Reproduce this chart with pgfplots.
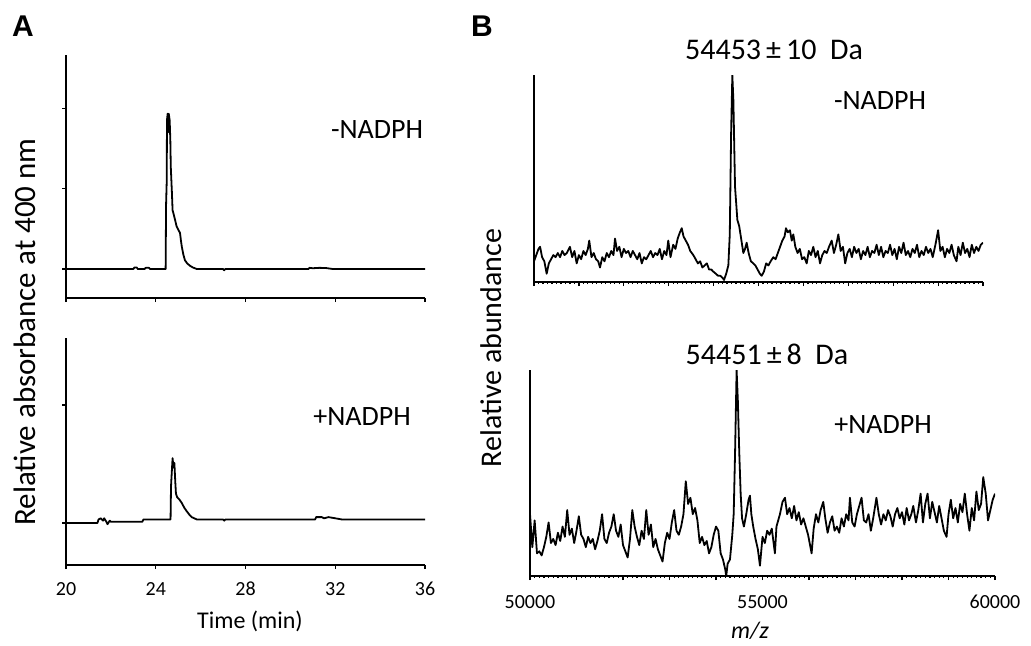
\documentclass[border=0pt]{standalone}
\usepackage{fontspec}
\setmainfont{Carlito}
\newfontfamily\panelfont{Liberation Sans}
\usepackage{pgfplots}
\pgfplotsset{compat=1.18}

\pgfplotsset{
  chrom/.style={
    scale only axis, anchor=south west,
    axis x line=bottom, axis y line=left,
    axis line style={-, line width=0.7pt},
    tick align=outside, major tick length=2pt,
    tick style={line width=0.6pt, black},
    every tick label/.append style={font=\fontsize{10}{12}\selectfont},
    /pgf/number format/assume math mode=true,
    scaled x ticks=false,
  },
  trace/.style={black, line width=0.9pt, line join=round},
}

\begin{document}
\begin{tikzpicture}
\useasboundingbox (0,0) rectangle (515.5pt,322.5pt);

% ---- A, -NADPH
\begin{axis}[chrom, at={(33pt,173.5pt)}, width=179.5pt, height=121.5pt,
  xmin=20, xmax=36, ymin=-0.36, ymax=2.66,
  xtick={20,24,...,36}, xticklabels={}, ytick={0,1,2}, yticklabels={}]
\addplot[trace] coordinates {
(20,0) (23.0,0) (23.05,0.02) (23.15,0.02) (23.2,0) (23.5,0) (23.55,0.015) (23.7,0.015) (23.75,0) (24.4,0)
(24.44,0) (24.46,0.8) (24.49,1.1) (24.5,1.85) (24.53,1.93) (24.56,1.7) (24.58,1.93) (24.62,1.85) (24.65,1.6)
(24.67,1.27) (24.72,0.95) (24.75,0.73) (24.8,0.68) (24.87,0.6) (24.93,0.53) (25.0,0.49) (25.08,0.45)
(25.12,0.36) (25.16,0.28) (25.23,0.18) (25.3,0.11) (25.4,0.07) (25.53,0.04) (25.65,0.02) (25.83,0)
(27.0,0) (27.05,-0.015) (27.1,0) (30.8,0) (30.85,0.015) (31.0,0.01) (31.3,0.015) (31.6,0.012) (31.9,0) (36,0)
};
\end{axis}

% ---- A, +NADPH
\begin{axis}[chrom, at={(33pt,40pt)}, width=179.5pt, height=113.5pt,
  xmin=20, xmax=36, ymin=-0.356, ymax=1.568,
  xtick={20,24,...,36}, ytick={0,1}, yticklabels={},
  xticklabel style={yshift=-3pt}]
\addplot[trace] coordinates {
(20,0) (21.4,0) (21.45,0.03) (21.55,0.04) (21.65,0.02) (21.7,0.04) (21.8,0.01) (21.85,-0.01) (21.95,0.02) (22.0,0.01)
(23.4,0.01) (23.45,0.03) (24.66,0.03) (24.68,0.31) (24.72,0.45) (24.75,0.55) (24.79,0.47) (24.83,0.51)
(24.87,0.35) (24.9,0.25) (24.95,0.22) (25.05,0.2) (25.16,0.17) (25.27,0.13) (25.38,0.1) (25.5,0.07)
(25.6,0.05) (25.83,0.03) (27.0,0.03) (27.05,0.02) (27.1,0.03) (31.1,0.03) (31.15,0.05) (31.4,0.05)
(31.5,0.04) (31.7,0.05) (32.0,0.04) (32.3,0.03) (36,0.03)
};
\end{axis}

% ---- B, -NADPH
\begin{axis}[chrom, at={(267pt,181.5pt)}, width=224.5pt, height=103.5pt,
  xmin=50000, xmax=60000, ymin=0, ymax=100,
  xtick={50000,51000,...,60000}, xticklabels={}, minor x tick num=9,
  minor tick length=1pt, ytick=\empty]
\addplot[trace] coordinates {
(50000,10) (50050,13) (50100,16) (50135,17) (50180,12) (50230,10) (50282,4) (50330,9) (50380,11) (50430,13)
(50480,12) (50530,14) (50580,12) (50630,15) (50680,13) (50730,14) (50800,17) (50850,12) (50900,15) (50950,9)
(51000,13) (51050,11) (51100,15) (51150,13) (51200,16) (51230,20) (51280,12) (51330,14) (51380,11) (51430,10)
(51470,7) (51520,12) (51570,10) (51620,14) (51670,12) (51720,15) (51770,13) (51804,21) (51850,15) (51900,17)
(51950,12) (52000,16) (52050,14) (52100,15) (52150,12) (52200,15) (52250,13) (52300,11) (52350,14) (52400,9)
(52450,12) (52500,11) (52550,13) (52600,15) (52650,12) (52700,14) (52750,13) (52800,16) (52850,11) (52900,15)
(52950,13) (52990,20) (53040,12) (53100,18) (53150,16) (53200,21) (53250,24) (53290,26) (53330,22) (53380,20)
(53430,18) (53480,15) (53548,13) (53600,11) (53650,9) (53700,10) (53750,7) (53800,8) (53850,9) (53900,6)
(53950,6) (53994,5) (54050,4) (54100,3) (54150,3) (54200,2) (54232,1) (54280,4) (54328,8) (54360,23)
(54390,72) (54417,100) (54440,88) (54477,46) (54529,30) (54570,27) (54620,20) (54662,14) (54700,16) (54736,19)
(54780,14) (54830,10) (54885,9) (54930,8) (54980,6) (55030,4) (55070,3) (55120,5) (55170,9) (55220,8)
(55270,10) (55330,12) (55380,11) (55430,14) (55480,17) (55530,20) (55580,22) (55612,26) (55650,24) (55700,25)
(55740,20) (55775,23) (55820,17) (55870,14) (55920,16) (55970,11) (56020,12) (56073,9) (56120,15) (56170,13)
(56220,17) (56270,12) (56320,15) (56370,9) (56420,13) (56470,15) (56520,14) (56570,17) (56630,20) (56680,14)
(56730,18) (56778,23) (56830,15) (56880,17) (56930,9) (56980,14) (57030,16) (57080,12) (57130,17) (57180,14)
(57230,16) (57280,11) (57330,15) (57380,13) (57430,17) (57480,12) (57530,15) (57580,14) (57630,18) (57680,13)
(57730,17) (57780,12) (57830,15) (57880,14) (57930,18) (57980,13) (58030,16) (58080,11) (58130,17) (58180,14)
(58230,19) (58280,13) (58330,15) (58380,12) (58430,16) (58480,14) (58530,18) (58580,12) (58630,15) (58680,13)
(58730,17) (58780,14) (58830,16) (58880,12) (58940,18) (59000,25) (59050,15) (59100,17) (59150,12) (59200,16)
(59250,14) (59300,18) (59350,13) (59410,10) (59450,17) (59500,13) (59550,19) (59600,14) (59650,16) (59700,12)
(59750,18) (59800,14) (59850,17) (59900,15) (59950,18) (60000,19)
};
\end{axis}

% ---- B, +NADPH
\begin{axis}[chrom, at={(265pt,34.5pt)}, width=232.5pt, height=103pt,
  xmin=50000, xmax=60000, ymin=0, ymax=100,
  xtick={50000,51000,...,60000},
  xticklabels={50000,,,,,55000,,,,,60000}, minor x tick num=9,
  minor tick length=1pt, ytick=\empty,
  xticklabel style={yshift=-4pt}]
\addplot[trace] coordinates {
(50000,30) (50050,14) (50100,27) (50150,11) (50200,12) (50250,10) (50300,14) (50350,19) (50400,26) (50450,16)
(50500,18) (50550,15) (50600,21) (50650,17) (50700,24) (50750,19) (50800,32) (50850,20) (50900,23) (50950,16)
(51000,22) (51050,29) (51100,20) (51150,18) (51200,14) (51250,19) (51300,16) (51350,18) (51400,13) (51450,17)
(51500,22) (51550,30) (51600,18) (51650,16) (51700,21) (51750,24) (51800,30) (51850,22) (51900,19) (51950,25)
(52000,15) (52050,12) (52100,9) (52150,18) (52200,32) (52250,24) (52300,19) (52350,15) (52400,22) (52450,18)
(52500,32) (52550,20) (52600,25) (52650,14) (52700,18) (52750,13) (52800,10) (52850,7) (52900,16) (52950,21)
(53000,18) (53050,26) (53100,32) (53150,22) (53200,20) (53250,24) (53300,30) (53350,46) (53400,35) (53450,38)
(53500,30) (53550,33) (53600,27) (53650,16) (53700,19) (53750,15) (53800,17) (53850,11) (53900,14) (53950,20)
(54000,24) (54050,22) (54100,11) (54150,8) (54200,3) (54220,0) (54250,6) (54300,8) (54350,20) (54380,30)
(54410,60) (54443,100) (54470,85) (54500,60) (54530,40) (54560,28) (54600,24) (54650,30) (54700,37) (54730,39)
(54760,30) (54800,24) (54850,18) (54900,13) (54945,5) (55000,19) (55050,16) (55100,22) (55150,20) (55200,23)
(55250,14) (55267,11) (55300,24) (55350,28) (55375,30) (55430,36) (55483,38) (55530,30) (55580,33) (55630,28)
(55680,34) (55730,27) (55780,31) (55830,25) (55880,28) (55930,24) (55980,20) (56056,11) (56100,23) (56150,30)
(56200,26) (56250,32) (56307,36) (56350,28) (56400,21) (56450,26) (56500,29) (56550,22) (56600,24) (56650,21)
(56700,28) (56750,24) (56800,30) (56850,27) (56880,38) (56930,26) (56980,24) (57030,30) (57080,34) (57130,38)
(57180,27) (57230,26) (57280,30) (57330,22) (57380,28) (57450,38) (57500,30) (57550,25) (57600,30) (57650,27)
(57700,32) (57750,29) (57800,24) (57850,30) (57900,33) (57950,28) (58000,31) (58050,25) (58100,33) (58150,27)
(58200,30) (58242,34) (58300,26) (58350,32) (58400,40) (58450,26) (58500,35) (58550,40) (58600,28) (58650,36)
(58700,31) (58750,26) (58800,34) (58850,28) (58900,22) (58958,19) (59000,30) (59050,37) (59100,28) (59150,33)
(59200,26) (59250,35) (59300,31) (59350,40) (59400,30) (59450,22) (59500,33) (59550,27) (59600,41) (59650,32)
(59700,35) (59747,48) (59800,40) (59850,27) (59900,32) (59950,37) (60000,40)
};
\end{axis}

% ---- text
\node[font=\panelfont\bfseries\fontsize{15}{17}\selectfont] at (11.5pt,309.5pt) {A};
\node[font=\panelfont\bfseries\fontsize{15}{17}\selectfont] at (241pt,309.5pt) {B};
\node[rotate=90, font=\fontsize{15.5}{17}\selectfont] at (12.5pt,156.5pt) {Relative absorbance at 400 nm};
\node[rotate=90, font=\fontsize{15}{17}\selectfont] at (245.5pt,148.5pt) {Relative abundance};
\node[font=\fontsize{12}{14}\selectfont] at (125pt,12pt) {Time (min)};
\node[font=\itshape\fontsize{12}{14}\selectfont] at (375pt,7pt) {m/z};
\node[font=\fontsize{14}{16}\selectfont] at (188.5pt,257.5pt) {-NADPH};
\node[font=\fontsize{14}{16}\selectfont] at (181pt,114pt) {+NADPH};
\node[font=\fontsize{15}{17}\selectfont] at (387pt,297.5pt) {54453\,±\,10~~Da};
\node[font=\fontsize{14}{16}\selectfont] at (440pt,272pt) {-NADPH};
\node[font=\fontsize{15}{17}\selectfont] at (383.5pt,145.5pt) {54451\,±\,8~~Da};
\node[font=\fontsize{14}{16}\selectfont] at (441.5pt,110pt) {+NADPH};
\end{tikzpicture}
\end{document}
